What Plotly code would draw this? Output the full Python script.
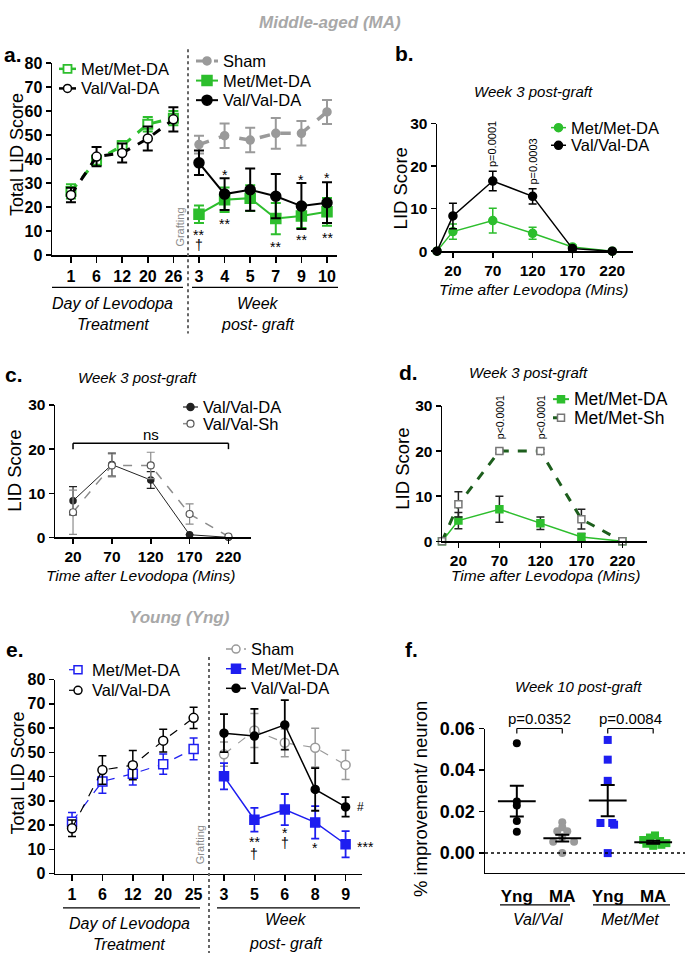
import plotly.graph_objects as go

W, H = 685, 962
FONT = "Liberation Sans, Arial, sans-serif"
BLACK = "#000000"
GREEN = "#2DBE2D"
DKGREEN = "#1D5E1D"
BLUE = "#1E1EF0"
GRAY = "#9A9A9A"
TITLEGRAY = "#A8A8A8"

# ---------------- data ----------------
# Panel a (Middle-aged)
a_day_labels = ["1", "6", "12", "20", "26"]
a_week_labels = ["3", "4", "5", "7", "9", "10"]
a_met_day = [26.5, 39.5, 45.5, 54.5, 57.0]
a_met_day_err = [3.0, 2.0, 2.0, 3.0, 3.0]
a_val_day = [25.0, 41.0, 42.5, 48.5, 56.5]
a_val_day_err = [3.0, 4.0, 4.0, 5.0, 5.0]
a_sham_wk = [46.0, 49.7, 47.9, 50.7, 50.7, 59.6]
a_sham_wk_err = [3.7, 5.1, 5.1, 6.4, 5.1, 5.0]
a_met_wk = [17.0, 23.0, 23.7, 15.2, 16.3, 18.0]
a_met_wk_err = [3.6, 5.1, 5.4, 6.5, 5.0, 5.8]
a_val_wk = [38.4, 25.4, 27.2, 24.5, 20.4, 21.8]
a_val_wk_err = [5.1, 6.6, 8.8, 9.2, 9.6, 8.5]

# Panel b
b_time = [0, 20, 70, 120, 170, 220]
b_met = [0, 4.6, 7.2, 4.2, 1.0, 0]
b_met_err = [0, 1.8, 2.9, 1.4, 0.5, 0]
b_val = [0, 8.3, 16.5, 12.9, 0.6, 0]
b_val_err = [0, 3.0, 2.3, 1.8, 0.4, 0]

# Panel c
c_time = [20, 70, 120, 170, 220]
c_val_da = [8.3, 16.5, 13.0, 0.6, 0.0]
c_val_da_err = [3.2, 2.6, 1.9, 0.0, 0.0]
c_val_sh = [5.7, 16.3, 16.3, 5.3, 0.2]
c_val_sh_err = [5.0, 2.6, 3.0, 2.3, 0.0]

# Panel d
d_time = [0, 20, 70, 120, 170, 220]
d_met_da = [0, 4.6, 7.1, 4.0, 0.95, 0]
d_met_da_err = [0, 1.8, 2.9, 1.4, 0.8, 0]
d_met_sh = [0, 8.2, 20.0, 20.0, 4.9, 0]
d_met_sh_err = [0, 2.8, 0.4, 0.4, 2.2, 0]

# Panel e (Young)
e_day_labels = ["1", "6", "12", "20", "25"]
e_week_labels = ["3", "5", "6", "8", "9"]
e_met_day = [21.4, 38.0, 41.2, 45.1, 51.4]
e_met_day_err = [3.8, 4.9, 4.7, 4.2, 4.5]
e_val_day = [18.7, 42.7, 44.7, 54.8, 64.2]
e_val_day_err = [3.4, 5.9, 6.0, 4.7, 4.4]
e_sham_wk = [49.2, 59.0, 53.9, 51.9, 44.8]
e_sham_wk_err = [5.0, 7.0, 5.7, 8.0, 6.0]
e_met_wk = [40.1, 22.2, 26.4, 21.1, 12.1]
e_met_wk_err = [5.4, 4.9, 6.4, 6.7, 5.4]
e_val_wk = [57.9, 56.7, 61.3, 34.7, 27.5]
e_val_wk_err = [7.8, 11.2, 10.2, 8.8, 4.0]

# Panel f
f_groups = ["Yng", "MA", "Yng", "MA"]
f_val_yng = [0.0529, 0.0249, 0.0229, 0.0155, 0.0103]
f_val_ma = [0.0148, 0.0125, 0.0105, 0.0105, 0.0078, 0.0055, 0.0055, 0.0000]
f_met_yng = [0.0545, 0.0450, 0.0348, 0.0145, 0.0145, 0.0137, 0.0000]
f_met_ma = [0.0085, 0.0075, 0.0063, 0.0058, 0.0048, 0.0045, 0.0040, 0.0035]
f_means = [0.0250, 0.0072, 0.0253, 0.0052]
f_sems = [0.0074, 0.0016, 0.0075, 0.0007]

# horizontal scatter (jitter) of the dot plot, in category units - layout only
f_jit_val_yng = [0, 0, 0, 0, 0]
f_jit_val_ma = [0, 0, -0.11, 0.11, 0, -0.2, 0.26, 0]
f_jit_met_yng = [0, 0, 0, -0.16, 0.10, 0.14, 0]
f_jit_met_ma = [0.04, -0.07, -0.22, 0.15, 0.29, -0.15, 0.18, 0]


def px(x):
    return x / W


def py(y):
    return 1 - y / H


fig = go.Figure()


def add(x, y, err, color, symbol, size, dash, lw, xa, ya,
        ecolor=None, fill=None, mline=None, mlw=1.5, ethick=1.5, ewidth=4):
    fig.add_trace(go.Scatter(
        x=x, y=y, mode="lines+markers", xaxis=xa, yaxis=ya,
        line=dict(color=color, width=lw, dash=dash),
        marker=dict(symbol=symbol, size=size, color=fill if fill else color,
                    line=dict(color=mline if mline else color, width=mlw)),
        error_y=dict(type="data", array=err, visible=True, color=ecolor if ecolor else color,
                     thickness=ethick, width=ewidth),
        showlegend=False, cliponaxis=False,
    ))


# ---- panel a ----
a_x_day = list(range(len(a_day_labels)))
a_x_wk = [len(a_day_labels) + i for i in range(len(a_week_labels))]
add(a_x_day, a_met_day, a_met_day_err, GREEN, "square", 9, "dash", 3, "x", "y",
    fill="white", mlw=2, ethick=2, ewidth=5)
add(a_x_day, a_val_day, a_val_day_err, BLACK, "circle", 9, "dash", 3, "x", "y",
    fill="white", mlw=1.5, ethick=2, ewidth=5)
add(a_x_wk, a_sham_wk, a_sham_wk_err, GRAY, "circle", 8, "dash", 3.5, "x", "y", ethick=2, ewidth=5)
add(a_x_wk, a_met_wk, a_met_wk_err, GREEN, "square", 10, "solid", 2, "x", "y", ethick=2, ewidth=5)
add(a_x_wk, a_val_wk, a_val_wk_err, BLACK, "circle", 10, "solid", 2, "x", "y", ethick=2, ewidth=5)

# ---- panel b ----
add(b_time, b_met, b_met_err, GREEN, "circle", 8, "solid", 1.5, "x2", "y2")
add(b_time, b_val, b_val_err, BLACK, "circle", 8, "solid", 1.5, "x2", "y2")

# ---- panel c ----
add(c_time, c_val_da, c_val_da_err, "#222222", "circle", 6, "solid", 1, "x3", "y3", ethick=1.2)
add(c_time, c_val_sh, c_val_sh_err, "#8C8C8C", "circle", 7, "dash", 1.5, "x3", "y3",
    fill="white", mline="#555555", mlw=1.2, ethick=1.2)

# ---- panel d ----
add(d_time, d_met_da, d_met_da_err, GREEN, "square", 7, "solid", 1.5, "x4", "y4",
    ecolor="#222222", ethick=1.5)
add(d_time, d_met_sh, d_met_sh_err, DKGREEN, "square", 7, "dash", 3, "x4", "y4",
    fill="white", mline="#777777", mlw=1.5, ecolor="#222222", ethick=1.5)

# ---- panel e ----
e_x_day = list(range(len(e_day_labels)))
e_x_wk = [len(e_day_labels) + i for i in range(len(e_week_labels))]
add(e_x_day, e_met_day, e_met_day_err, BLUE, "square", 9, "dash", 1.2, "x5", "y5", fill="white", mlw=1.5)
add(e_x_day, e_val_day, e_val_day_err, BLACK, "circle", 9, "dash", 1.2, "x5", "y5", fill="white", mlw=1.5)
add(e_x_wk, e_sham_wk, e_sham_wk_err, GRAY, "circle", 9, "dash", 1.2, "x5", "y5", fill="white", mlw=1.5)
add(e_x_wk, e_met_wk, e_met_wk_err, BLUE, "square", 9, "solid", 1.5, "x5", "y5", ethick=1.8)
add(e_x_wk, e_val_wk, e_val_wk_err, BLACK, "circle", 8, "solid", 1.5, "x5", "y5", ethick=1.8)

# ---- panel f ----
f_sets = [(f_val_yng, f_jit_val_yng, BLACK, "circle"),
          (f_val_ma, f_jit_val_ma, GRAY, "circle"),
          (f_met_yng, f_jit_met_yng, BLUE, "square"),
          (f_met_ma, f_jit_met_ma, GREEN, "square")]
for gi, (vals, jit, col, sym) in enumerate(f_sets):
    fig.add_trace(go.Scatter(
        x=[gi + j for j in jit], y=vals, mode="markers", xaxis="x6", yaxis="y6",
        marker=dict(symbol=sym, size=8, color=col), showlegend=False, cliponaxis=False))
fig.add_trace(go.Scatter(
    x=list(range(len(f_groups))), y=f_means, mode="markers", xaxis="x6", yaxis="y6",
    marker=dict(symbol="line-ew", size=27, color=BLACK, line=dict(color=BLACK, width=2)),
    error_y=dict(type="data", array=f_sems, visible=True, color=BLACK, thickness=2, width=7),
    showlegend=False, cliponaxis=False))


# ---------------- axes ----------------
def xax(d0, d1, rng, anchor, tickvals=None, ticktext=None, size=16, ticklen=6, tickcolor=BLACK):
    return dict(domain=[px(d0), px(d1)], range=rng, anchor=anchor, showline=True,
                linecolor=BLACK, linewidth=1.5, ticks="outside", ticklen=ticklen, tickwidth=1.5,
                tickcolor=tickcolor, showgrid=False, zeroline=False, tickvals=tickvals,
                ticktext=ticktext, fixedrange=True,
                tickfont=dict(family=FONT, size=size, color=BLACK, weight="bold"))


def yax(top, bottom, rng, anchor, tickvals, size=16, fmt=None):
    d = dict(domain=[py(bottom), py(top)], range=rng, anchor=anchor, showline=True,
             linecolor=BLACK, linewidth=1.5, ticks="outside", ticklen=5, tickwidth=1.5,
             tickcolor=BLACK, showgrid=False, zeroline=False, tickvals=tickvals, fixedrange=True,
             tickfont=dict(family=FONT, size=size, color=BLACK, weight="bold"))
    if fmt:
        d["tickformat"] = fmt
    return d


time_ticks = [20, 70, 120, 170, 220]
fig.update_layout(
    xaxis=xax(52, 337, [-0.74, 10.39], "y", a_x_day + a_x_wk, a_day_labels + a_week_labels, 16),
    yaxis=yax(54, 250, [0, 80], "x", list(range(0, 81, 10)), 16),
    xaxis2=xax(437, 633, [0, 246], "y2", time_ticks, None, 15.5, 5),
    yaxis2=yax(116, 246, [0, 30], "x2", [0, 10, 20, 30], 15.5),
    xaxis3=xax(55, 251, [-3.2, 249], "y3", time_ticks, None, 15.5, 5),
    yaxis3=yax(403, 538, [0, 30], "x3", [0, 10, 20, 30], 15.5),
    xaxis4=xax(442, 647, [0, 250], "y4", time_ticks, None, 15.5, 5),
    yaxis4=yax(404, 542, [0, 30], "x4", [0, 10, 20, 30], 15.5),
    xaxis5=xax(55, 362, [-0.56, 9.54], "y5", e_x_day + e_x_wk, e_day_labels + e_week_labels, 16),
    yaxis5=yax(683, 881, [0, 80], "x5", list(range(0, 81, 10)), 16),
    xaxis6=xax(485, 685, [-0.7, 3.7], "y6", list(range(len(f_groups))), f_groups, 17, 7,
               "rgba(0,0,0,0)"),
    yaxis6=yax(733, 880, [-0.0094, 0.06], "x6", [0, 0.02, 0.04, 0.06], 18, ".2f"),
    # full-page pixel overlay used only for the hand-placed legend keys
    xaxis7=dict(domain=[0, 1], range=[0, W], anchor="y7", visible=False, fixedrange=True),
    yaxis7=dict(domain=[0, 1], range=[H, 0], anchor="x7", visible=False, fixedrange=True),
)

# ---------------- annotations ----------------
anns = []


def txt(x, y, text, size=16, color=BLACK, bold=False, italic=False, angle=0,
        xanchor="center", xref="paper", yref="paper"):
    anns.append(dict(
        x=x if xref != "paper" else px(x), y=y if yref != "paper" else py(y),
        xref=xref, yref=yref, text=text, showarrow=False, textangle=angle,
        xanchor=xanchor, yanchor="middle",
        font=dict(family=FONT, size=size, color=color, weight=700 if bold else 400,
                  style="italic" if italic else "normal")))


# ---------------- legends (hand placed) ----------------
def legend_key(x0, x1, y, text, color, dash, lw, symbol, size, fill=None, mline=None, mlw=1.5,
               fsize=16.5):
    fig.add_trace(go.Scatter(
        x=[x0, (x0 + x1) / 2, x1], y=[y, y, y], xaxis="x7", yaxis="y7", mode="lines+markers",
        line=dict(color=color, width=lw, dash=dash),
        marker=dict(symbol=symbol, size=size, color=fill if fill else color, opacity=[0, 1, 0],
                    line=dict(color=mline if mline else color, width=mlw)),
        showlegend=False, hoverinfo="skip", cliponaxis=False))
    txt(x1 + 3, y, text, fsize, xanchor="left")


# panel a, left
legend_key(59, 76, 60, "Met/Met-DA", GREEN, "solid", 2.5, "square", 8, "white", GREEN, 1.8)
legend_key(59, 76, 80, "Val/Val-DA", BLACK, "solid", 2.5, "circle", 8, "white", BLACK, 1.5)
# panel a, right
legend_key(196, 218, 52, "Sham", GRAY, "dash", 3, "circle", 8)
legend_key(196, 218, 72, "Met/Met-DA", GREEN, "solid", 2, "square", 10)
legend_key(196, 218, 92, "Val/Val-DA", BLACK, "solid", 2, "circle", 10)
# panel b
legend_key(551, 566, 120, "Met/Met-DA", GREEN, "solid", 1.5, "circle", 8)
legend_key(551, 566, 138, "Val/Val-DA", BLACK, "solid", 1.5, "circle", 8)
# panel c
legend_key(183, 198, 405, "Val/Val-DA", "#222222", "solid", 1.2, "circle", 7)
legend_key(183, 198, 422, "Val/Val-Sh", "#8C8C8C", "dash", 1.5, "circle", 7, "white", "#555555", 1.2)
# panel d
legend_key(553, 569, 397, "Met/Met-DA", GREEN, "solid", 2, "square", 7, fsize=17.5)
legend_key(553, 569, 416, "Met/Met-Sh", DKGREEN, "dash", 3, "square", 7, "white", "#777777", 1.5,
           fsize=17.5)
# panel e, left
legend_key(69, 87, 673, "Met/Met-DA", BLUE, "dash", 1.2, "square", 8, "white", BLUE, 1.5)
legend_key(69, 87, 694, "Val/Val-DA", BLACK, "dash", 1.2, "circle", 8, "white", BLACK, 1.5)
# panel e, right
legend_key(226, 246, 652, "Sham", GRAY, "dash", 1.5, "circle", 8, "white", GRAY, 1.5)
legend_key(226, 246, 672, "Met/Met-DA", BLUE, "solid", 1.5, "square", 9)
legend_key(226, 246, 692, "Val/Val-DA", BLACK, "solid", 1.5, "circle", 8)

# titles
txt(330, 13, "Middle-aged (MA)", 17, TITLEGRAY, bold=True, italic=True)
txt(179, 620, "Young (Yng)", 17, TITLEGRAY, bold=True, italic=True)
# panel letters
for lx, ly, lt in [(2, 45, "a."), (393, 44, "b."), (3, 372, "c."), (397, 370, "d."),
                   (4, 652, "e."), (403, 652, "f.")]:
    txt(lx, ly, lt, 21, BLACK, bold=True, xanchor="left")
# y titles
txt(17, 148, "Total LID Score", 18, angle=-90)
txt(400, 182, "LID Score", 18.5, angle=-90)
txt(15, 470, "LID Score", 18.5, angle=-90)
txt(403, 468, "LID Score", 18.5, angle=-90)
txt(18, 779, "Total LID Score", 18, angle=-90)
txt(420, 805, "% improvement/ neuron", 18.5, angle=-90)
# panel titles
txt(533, 83, "Week 3 post-graft", 15, italic=True)
txt(137, 375, "Week 3 post-graft", 15, italic=True)
txt(528, 370, "Week 3 post-graft", 15, italic=True)
txt(578, 690, "Week 10 post-graft", 15, italic=True)
# x titles
txt(533, 285, "Time after Levodopa (Mins)", 15.5, italic=True)
txt(140, 577, "Time after Levodopa (Mins)", 15.5, italic=True)
txt(545, 577, "Time after Levodopa (Mins)", 15.5, italic=True)
txt(113, 299, "Day of Levodopa", 16, italic=True)
txt(113, 321, "Treatment", 16, italic=True)
txt(258, 299, "Week", 16, italic=True)
txt(258, 321, "post- graft", 16, italic=True)
txt(129, 932, "Day of Levodopa", 16, italic=True)
txt(129, 953, "Treatment", 16, italic=True)
txt(286, 928, "Week", 16, italic=True)
txt(286, 952, "post- graft", 16, italic=True)
txt(538, 928, "Val/Val", 16, italic=True)
txt(630, 928, "Met/Met", 16, italic=True)
# grafting
txt(180, 222, "Grafting", 11, "#8A8A8A", angle=-90)
txt(200, 851, "Grafting", 11, "#8A8A8A", angle=-90)
# p-values
txt(70, 137, "p=0.0001", 11, angle=-90, xref="x2")
txt(120, 155, "p=0.0003", 11, angle=-90, xref="x2")
txt(70, 415, "p<0.0001", 10.5, angle=-90, xref="x4")
txt(120, 415, "p<0.0001", 10.5, angle=-90, xref="x4")
txt(0.5, 723, "p=0.0352", 15, xref="x6")
txt(2.5, 723, "p=0.0084", 15, xref="x6")
txt(120, 433, "ns", 15, xref="x3")
# significance marks (panel a) : (x index, y px, text)
for xi, yy, t in [(5, 230, "**"), (5, 240, "†"), (6, 168, "*"), (6, 218, "**"), (8, 242, "**"),
                  (9, 173, "*"), (9, 235, "**"), (10, 171, "*"), (10, 233, "**")]:
    txt(xi, yy, t, 14, xref="x")
# significance marks (panel e)
for xi, yy, t in [(6, 849, "**"), (6, 861, "†"), (7, 840, "*"), (7, 850, "†"), (8, 855, "*")]:
    txt(xi, yy, t, 14, xref="x5")
txt(9.3, 854, "***", 14, xref="x5", xanchor="left")
txt(9.3, 813, "#", 12, xref="x5", xanchor="left")

fig.update_layout(annotations=anns)

# ---------------- shapes ----------------
shapes = []


def hline(x0, x1, y, width=1.2, color=BLACK, xref="paper", dash="solid"):
    shapes.append(dict(type="line", xref=xref, yref="paper",
                       x0=x0 if xref != "paper" else px(x0), x1=x1 if xref != "paper" else px(x1),
                       y0=py(y), y1=py(y), line=dict(color=color, width=width, dash=dash)))


def vline(x, y0, y1, width=1.2, color=BLACK, xref="paper", dash="solid"):
    shapes.append(dict(type="line", xref=xref, yref="paper",
                       x0=x if xref != "paper" else px(x), x1=x if xref != "paper" else px(x),
                       y0=py(y0), y1=py(y1), line=dict(color=color, width=width, dash=dash)))


# dotted separators
vline(188, 40, 330, 2, "#666666", dash="dot")
vline(209, 660, 962, 2, "#666666", dash="dot")
# group underlines
hline(52, 183, 283)
hline(192, 338, 283)
hline(63, 200, 916)
hline(217, 360, 916)
hline(500, 570, 913)
hline(593, 670, 913)
# ns bracket (panel c)
hline(20, 220, 442, 1.5, xref="x3")
vline(20, 442, 448, 1.5, xref="x3")
vline(220, 442, 448, 1.5, xref="x3")
# p brackets panel f
for a0, a1 in [(0, 1), (2, 3)]:
    hline(a0, a1, 733, 1.2, xref="x6")
    vline(a0, 733, 738, 1.2, xref="x6")
    vline(a1, 733, 738, 1.2, xref="x6")
# zero dotted line panel f
hline(485, 685, 860, 1.5, BLACK, dash="dot")

fig.update_layout(shapes=shapes)

fig.update_layout(width=W, height=H, autosize=False, margin=dict(l=0, r=0, t=0, b=0),
                  paper_bgcolor="white", plot_bgcolor="rgba(0,0,0,0)",
                  font=dict(family=FONT, color=BLACK), showlegend=False)

fig.write_html("out.html", config={"displayModeBar": False, "staticPlot": True},
               post_script="document.body.style.margin='0';document.body.style.overflow='hidden';")
